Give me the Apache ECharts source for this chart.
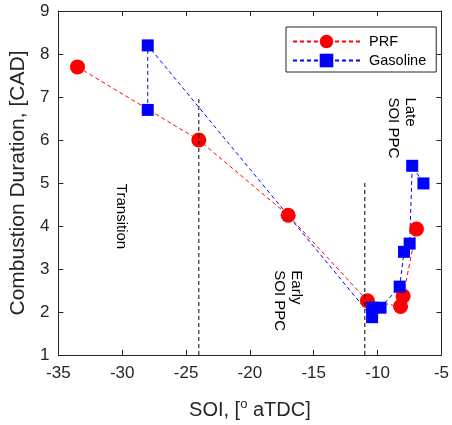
<!DOCTYPE html>
<html><head><meta charset="utf-8">
<script src="https://cdn.jsdelivr.net/npm/echarts@6/dist/echarts.min.js"></script>
<style>html,body{margin:0;padding:0;background:#fff}#c{width:452px;height:425px}</style>
</head><body><div id="c"></div>
<script>
// ---- data ----
const prfSOI = [-33.5, -24.0, -17.0, -10.8, -8.2, -8.0, -6.95];
const prfDur = [7.70, 6.00, 4.25, 2.26, 2.13, 2.37, 3.93];
const gasSOI = [-28.0, -28.0, -10.43, -10.43, -9.77, -8.27, -7.93, -7.49, -7.29, -6.41];
const gasDur = [6.70, 8.20, 1.88, 2.10, 2.10, 2.59, 3.40, 3.59, 5.40, 4.99];
const regionSOI = [-24, -11];
const regionTop = [7, 5];
const noteText = ['Transition', 'Early\nSOI PPC', 'Late\nSOI PPC'];
const noteSOI = [-30.05, -17.06, -8.09];
const noteDur = [4.98, 2.97, 6.99];
const xTicks = [-35, -5, 5];
const yTicks = [1, 9, 1];

const FONT = '"Liberation Sans", Arial, sans-serif';
const AX = '#262626';
const zip = (a, b) => a.map((v, i) => [v, b[i]]);

const chart = echarts.init(document.getElementById('c'), null, {renderer: 'canvas'});
const baseX = {type: 'value', min: xTicks[0], max: xTicks[1], interval: xTicks[2],
  axisLine: {show: true, lineStyle: {color: AX, width: 1}},
  axisTick: {show: true, inside: true, length: 5, lineStyle: {color: AX}},
  splitLine: {show: false}};
const baseY = {type: 'value', min: yTicks[0], max: yTicks[1], interval: yTicks[2],
  axisLine: {show: true, lineStyle: {color: AX, width: 1}},
  axisTick: {show: true, inside: true, length: 5, lineStyle: {color: AX}},
  splitLine: {show: false}};

const series = [
  {name: 'PRF', type: 'line', data: zip(prfSOI, prfDur), symbol: 'circle', symbolSize: 15,
   itemStyle: {color: '#ff0000'}, lineStyle: {color: '#ff0000', width: 1, type: [4, 3]}, z: 2},
  {name: 'Gasoline', type: 'line', data: zip(gasSOI, gasDur), symbol: 'rect', symbolSize: 12,
   itemStyle: {color: '#0000ff'}, lineStyle: {color: '#0000ff', width: 1, type: [4, 3]}, z: 2}
];
regionSOI.forEach((x, i) => {
  series.push({name: 'region' + i, type: 'line', data: [[x, yTicks[0]], [x, regionTop[i]]],
    symbol: 'none', lineStyle: {color: '#000', width: 1, type: [4, 3]}, z: 3, silent: true});
});

chart.setOption({
  animation: false,
  textStyle: {fontFamily: FONT},
  grid: {left: 56, right: 8, top: 11, bottom: 68, containLabel: false},
  legend: {data: ['PRF', 'Gasoline'], orient: 'vertical', left: 286, top: 27,
    borderColor: AX, borderWidth: 1, backgroundColor: '#fff', borderRadius: 0,
    padding: [7, 10, 4, 6], itemWidth: 67, itemHeight: 17, itemGap: 4,
    textStyle: {fontSize: 14.5, color: '#000', fontFamily: FONT, padding: [0, 0, 0, 4]}},
  xAxis: [
    Object.assign({}, baseX, {position: 'bottom',
      axisLabel: {fontSize: 17, color: AX, margin: 10, fontFamily: FONT},
      name: 'SOI, [{sup|o} aTDC]', nameLocation: 'middle', nameGap: 43,
      nameTextStyle: {fontSize: 20, color: AX, fontFamily: FONT,
        rich: {sup: {fontSize: 13, color: AX, fontFamily: FONT, padding: [0, 0, 11, 0]}}}}),
    Object.assign({}, baseX, {position: 'top', axisLabel: {show: false}})
  ],
  yAxis: [
    Object.assign({}, baseY, {position: 'left',
      axisLabel: {fontSize: 17, color: AX, margin: 9, fontFamily: FONT},
      name: 'Combustion Duration, [CAD]', nameLocation: 'middle', nameGap: 27,
      nameTextStyle: {fontSize: 21, color: AX, fontFamily: FONT}}),
    Object.assign({}, baseY, {position: 'right', axisLabel: {show: false}})
  ],
  series: series
});

const notes = noteText.map((t, i) => {
  const p = chart.convertToPixel({xAxisIndex: 0, yAxisIndex: 0}, [noteSOI[i], noteDur[i]]);
  return {type: 'text', x: p[0], y: p[1], rotation: -Math.PI / 2, z: 10,
    style: {text: t, fontSize: 15, fontFamily: FONT, fill: '#000', align: 'left',
      verticalAlign: 'middle', lineHeight: 17}};
});
chart.setOption({graphic: notes});
</script></body></html>
